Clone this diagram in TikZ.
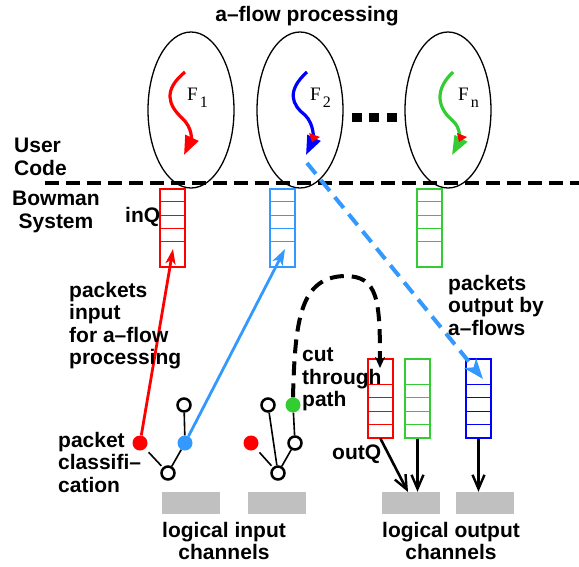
\documentclass[tikz,border=0pt]{standalone}
\usepackage{fontspec}
\setmainfont{Liberation Sans}
\newfontfamily\serifF{Liberation Serif}
\usetikzlibrary{arrows.meta,calc,shapes.geometric}
\definecolor{qred}{RGB}{255,0,0}
\definecolor{qblue}{RGB}{51,153,255}
\definecolor{dblue}{RGB}{0,0,255}
\definecolor{qgreen}{RGB}{51,204,51}
\definecolor{chgray}{RGB}{192,192,192}
\tikzset{
  lbl/.style={font=\fontsize{21}{22.5}\selectfont\bfseries, inner sep=0pt},
  flab/.style={font=\serifF\fontsize{19}{19}\selectfont, inner sep=0pt, anchor=base west},
  flow/.style={ellipse, draw, line width=1.3pt, minimum width=86pt, minimum height=156pt, inner sep=0pt},
  fillc/.style={circle, minimum size=15pt, inner sep=0pt, fill=#1},
  openc/.style={circle, minimum size=13pt, inner sep=0pt, draw, line width=2.5pt, fill=white},
  tline/.style={line width=1.6pt},
  chan/.style={fill=chgray, minimum width=58pt, minimum height=22pt, inner sep=0pt},
  fflow/.style={#1, line width=3.2pt, -{Triangle[length=19pt,width=14pt]}},
  outarr/.style={line width=2.6pt, -{Straight Barb[length=14pt,width=12pt,line width=2.4pt]}},
}
\newcommand\inqueue[3]{%
  \node[draw=#3, line width=1.4pt, minimum width=25pt, minimum height=78pt, inner sep=0pt] (#1) at (#2,228) {};
  \foreach \yy in {13,27,40,53}
    \draw[#3, line width=1.4pt] ($(#1.north west)+(0,\yy)$) -- ($(#1.north east)+(0,\yy)$);
}
\newcommand\outqueue[3]{%
  \node[draw=#3, line width=1.4pt, minimum width=25pt, minimum height=79pt, inner sep=0pt] (#1) at (#2,398.5) {};
  \foreach \yy in {26,39,53,66}
    \draw[#3, line width=1.4pt] ($(#1.north west)+(0,\yy)$) -- ($(#1.north east)+(0,\yy)$);
}
\begin{document}
\begin{tikzpicture}[x=1pt, y=-1pt]
\useasboundingbox (0,0) rectangle (579,566);

% title
\node[lbl] (title) at (307,16) {a–flow processing};

% a-flow ellipses
\node[flow] (e1) at (191,110) {};
\node[flow] (e2) at (300,110) {};
\node[flow] (e3) at (448,110) {};

% flows
\draw[fflow=qred] (185,72) .. controls (163,90) and (168,105) .. (182,118) .. controls (193,128) and (191,140) .. (184,155);
\draw[fflow=dblue] (307,72) .. controls (286,91) and (292,105) .. (305,115) .. controls (315,125) and (313,140) .. (306,155);
\draw[fflow=qgreen] (453,72) .. controls (432,92) and (440,110) .. (452,120) .. controls (462,128) and (459,142) .. (452,155);
\fill[qred] (309,133) -- (320,137) -- (312,142) -- cycle;
\fill[qred] (457,133) -- (467,137) -- (459,142) -- cycle;

\node[flab] (f1) at (187,100) {F\kern2pt\raisebox{-7pt}{\fontsize{16}{16}\selectfont 1}};
\node[flab] (f2) at (310,100) {F\kern2pt\raisebox{-7pt}{\fontsize{16}{16}\selectfont 2}};
\node[flab] (fn) at (458,100) {F\kern2pt\raisebox{-7pt}{\fontsize{16}{16}\selectfont n}};

% dots
\fill (352,113) rectangle (362,122);
\fill (369,113) rectangle (379,122);
\fill (387,113) rectangle (397,122);

% separator
\draw[line width=4pt, dash pattern=on 14pt off 7pt] (45,183) -- (579,183);

\node[lbl, anchor=north west, align=left] (user) at (14,138) {User\\Code};
\node[lbl, anchor=north, align=center] (bowman) at (56,191) {Bowman\\System};

% input queues
\inqueue{qiR}{172.5}{qred}
\inqueue{qiB}{282.5}{qblue}
\inqueue{qiG}{429.5}{qgreen}
\node[lbl, anchor=north west] (inq) at (125,207) {inQ};

% output queues
\outqueue{qoR}{380.5}{qred}
\outqueue{qoG}{417.5}{qgreen}
\outqueue{qoB}{478.5}{dblue}
\node[lbl, anchor=north west] (outq) at (332,445) {outQ};

% channels
\node[chan] (in1) at (191,503) {};
\node[chan] (in2) at (277,503) {};
\node[chan] (out1) at (411,503) {};
\node[chan] (out2) at (484.5,503) {};
\node[lbl, anchor=north, align=center] (inlbl) at (224,522) {logical input\\channels};
\node[lbl, anchor=north, align=center] (outlbl) at (451,522) {logical output\\channels};

% classification tree 1
\node[openc] (r1) at (168,473) {};
\node[fillc=qred] (c1r) at (140,443) {};
\node[fillc=qblue] (c1b) at (185,443) {};
\node[openc] (c1t) at (184,405) {};
\draw[tline, shorten <=5pt, shorten >=2pt] (c1r) -- (r1);
\draw[tline] (r1) -- (c1b);
\draw[tline] (c1b) -- (c1t);

% classification tree 2
\node[openc] (r2) at (278,473) {};
\node[fillc=qred] (c2r) at (251,443) {};
\node[openc] (c2o) at (295,443) {};
\node[openc] (c2t) at (268,405) {};
\node[fillc=qgreen] (c2g) at (293,405) {};
\draw[tline, shorten <=5pt, shorten >=2pt] (c2r) -- (r2);
\draw[tline] (r2) -- (c2o);
\draw[tline] (r2) -- (c2t);
\draw[tline] (c2o) -- (c2g);

% connectors
\coordinate (inR) at (173,249);
\coordinate (inB) at (285,249);
\draw[qred, line width=2.8pt, -{Stealth[length=15pt,width=10pt,inset=4pt]}] (c1r) -- (inR);
\draw[qblue, line width=2.8pt, -{Stealth[length=16pt,width=11pt,inset=4pt]}] (c1b) -- (inB);

\coordinate (bdS) at (307,163);
\coordinate (bdE) at (483,379);
\draw[qblue, line width=4pt, dash pattern=on 14pt off 8pt, -{Stealth[length=20pt,width=15pt,inset=5pt]}] (bdS) -- (bdE);

\coordinate (ctE) at (380,368);
\draw[line width=4pt, dash pattern=on 14pt off 8pt, -{Stealth[length=11pt,width=10pt,inset=3pt]}] (c2g.north) .. controls (295,320) and (300,277) .. (345,276) .. controls (378,276) and (380,300) .. (ctE);

\coordinate (o1a) at (408,492);
\draw[outarr] (qoR.south) -- (o1a);
\draw[outarr] (qoG.south) -- (qoG.south |- out1.north);
\draw[outarr] (qoB.south) -- (qoB.south |- out2.north);

% labels
\node[lbl, anchor=north west, align=left] (pin) at (69,282) {packets\\input\\for a–flow\\processing};
\node[lbl, anchor=north west, align=left] (pcl) at (58,432) {packet\\classifi–\\cation};
\node[lbl, anchor=north west, align=left] (ctp) at (302,348) {cut\\through\\path};
\node[lbl, anchor=north west, align=left] (pout) at (448,275) {packets\\output by\\a–flows};
\end{tikzpicture}
\end{document}
